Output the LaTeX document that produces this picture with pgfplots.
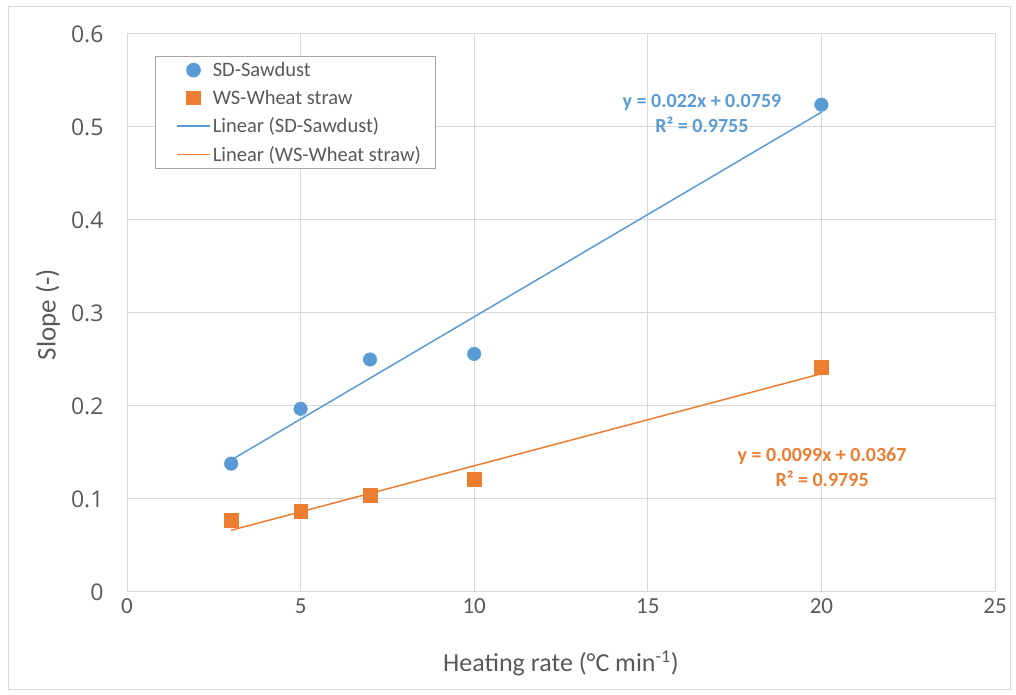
\documentclass[border=0pt]{standalone}
\usepackage{pgfplots}
\pgfplotsset{compat=1.18}
\usepackage{fontspec}
\setmainfont{Carlito}
\newfontfamily\tickfont{Open Sans}
\definecolor{sdblue}{HTML}{5B9BD5}
\definecolor{wsorange}{HTML}{ED7D31}
\definecolor{gridgray}{HTML}{D9D9D9}
\definecolor{txtgray}{HTML}{595959}
\definecolor{leggray}{HTML}{A6A6A6}
\begin{document}
\begin{tikzpicture}[x=1pt,y=1pt]
\useasboundingbox (0,0) rectangle (1016,695);
\draw[gridgray,line width=1pt] (8,5) rectangle (1010,688);
\begin{axis}[
  at={(127pt,103pt)}, anchor=south west,
  scale only axis, width=868pt, height=558pt,
  xmin=0, xmax=25, ymin=0, ymax=0.6,
  xtick={0,5,10,15,20,25},
  ytick={0,0.1,0.2,0.3,0.4,0.5,0.6},
  /pgf/number format/assume math mode=true,
  yticklabel style={/pgf/number format/fixed, /pgf/number format/precision=1,
    font=\tickfont\fontsize{23}{23}\selectfont, text=txtgray, anchor=east, xshift=-20pt},
  xticklabel style={font=\fontsize{23}{23}\selectfont, text=txtgray, anchor=center, yshift=-14pt},
  major tick length=0pt,
  grid=major,
  grid style={gridgray, line width=1pt},
  axis line style={gridgray, line width=1pt},
  xlabel={Heating rate (°C min\textsuperscript{-1})},
  ylabel={Slope (-)},
  xlabel style={at={(axis description cs:0.5,0)}, anchor=center, yshift=-71pt,
    font=\fontsize{26}{26}\selectfont, text=txtgray},
  ylabel style={at={(axis description cs:0,0.497)}, anchor=center, yshift=79pt,
    font=\fontsize{27}{27}\selectfont, text=txtgray},
  legend style={at={(0.032,0.961)}, anchor=north west, draw=leggray, line width=1pt,
    fill=white, font=\fontsize{20.5}{22}\selectfont, text=txtgray,
    row sep=8pt, inner xsep=13pt, inner ysep=4pt},
  legend cell align=left,
  legend image code/.code={\path (0pt,0pt); \draw[mark repeat=2,mark phase=2,#1] plot coordinates {(8pt,0pt) (24.5pt,0pt) (41pt,0pt)};},
]
\addplot[only marks, mark=*, mark size=6.8pt, color=sdblue, draw=sdblue, fill=sdblue] coordinates {
  (3,0.138) (5,0.197) (7,0.250) (10,0.256) (20,0.524)};
\addlegendentry{SD-Sawdust}
\addplot[only marks, mark=square*, mark size=6.8pt, color=wsorange, draw=wsorange, fill=wsorange] coordinates {
  (3,0.077) (5,0.087) (7,0.104) (10,0.121) (20,0.242)};
\addlegendentry{WS-Wheat straw}
\addplot[color=sdblue, draw=sdblue, line width=1.5pt, no marks] coordinates {(3,0.1419) (20,0.5159)};
\addlegendentry{Linear (SD-Sawdust)}
\addplot[color=wsorange, draw=wsorange, line width=1.5pt, no marks] coordinates {(3,0.0664) (20,0.2347)};
\addlegendentry{Linear (WS-Wheat straw)}
\node[sdblue, font=\bfseries\fontsize{20}{25}\selectfont, align=center] at (axis cs:16.56,0.515) {y = 0.022x + 0.0759\\R² = 0.9755};
\node[wsorange, font=\bfseries\fontsize{20}{25}\selectfont, align=center] at (axis cs:20.02,0.1344) {y = 0.0099x + 0.0367\\R² = 0.9795};
\end{axis}
\end{tikzpicture}
\end{document}
